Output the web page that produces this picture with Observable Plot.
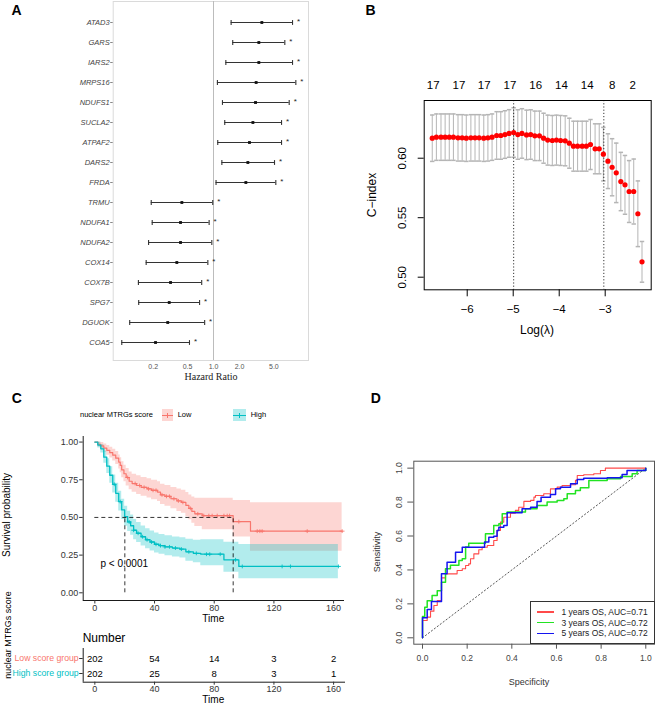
<!DOCTYPE html>
<html><head><meta charset="utf-8">
<script src="https://cdn.jsdelivr.net/npm/d3@7"></script>
<script src="https://cdn.jsdelivr.net/npm/@observablehq/plot@0.6"></script>
<style>
html,body{margin:0;padding:0;background:#fff;}
#fig{position:relative;width:655px;height:704px;overflow:hidden;background:#fff;font-family:"Liberation Sans",Arial,Helvetica,sans-serif;}
</style></head><body><div id="fig"></div>
<script>
// ---------- Panel A: univariate Cox forest ----------
const genes = ["ATAD3","GARS","IARS2","MRPS16","NDUFS1","SUCLA2","ATPAF2","DARS2","FRDA","TRMU","NDUFA1","NDUFA2","COX14","COX7B","SPG7","DGUOK","COA5"];
const hr      = [3.63, 3.35, 3.35, 3.12, 3.07, 2.86, 2.61, 2.50, 2.37, 0.43, 0.415, 0.415, 0.376, 0.318, 0.307, 0.295, 0.213];
const hrLower = [1.60, 1.67, 1.39, 1.11, 1.27, 1.35, 1.12, 1.25, 1.07, 0.19, 0.195, 0.177, 0.166, 0.135, 0.136, 0.107, 0.0866];
const hrUpper = [8.23, 6.70, 8.23, 8.99, 7.53, 6.14, 6.14, 5.09, 5.27, 0.98, 0.89, 0.956, 0.86, 0.73, 0.69, 0.79, 0.527];
const hrTicks = [0.2, 0.5, 1.0, 2.0, 5.0];

// ---------- Panel B: LASSO cross-validation ----------
const logLambda = [-6.76,-6.67,-6.57,-6.48,-6.39,-6.30,-6.20,-6.11,-6.02,-5.92,-5.83,-5.74,-5.64,-5.55,-5.46,-5.36,-5.27,-5.18,-5.09,-4.99,-4.90,-4.81,-4.71,-4.62,-4.53,-4.43,-4.34,-4.25,-4.15,-4.06,-3.97,-3.87,-3.78,-3.69,-3.60,-3.50,-3.41,-3.32,-3.22,-3.13,-3.04,-2.94,-2.85,-2.76,-2.66,-2.57,-2.48,-2.38,-2.29,-2.20];
const cIndex = [0.6168,0.6177,0.6177,0.6177,0.6177,0.6177,0.6171,0.6171,0.6168,0.6171,0.6171,0.6171,0.6168,0.6171,0.6177,0.6191,0.6191,0.6199,0.6208,0.6216,0.6199,0.6208,0.6196,0.6199,0.6188,0.6188,0.6168,0.6152,0.6149,0.6152,0.6149,0.6146,0.6126,0.6101,0.6101,0.6101,0.6101,0.6115,0.6079,0.6079,0.6034,0.5975,0.5924,0.5877,0.5804,0.5776,0.5720,0.5720,0.5533,0.5129];
const cSE = [0.0195,0.0195,0.0195,0.0195,0.0195,0.0195,0.0195,0.0195,0.0195,0.0195,0.0195,0.0195,0.0195,0.0195,0.0195,0.020,0.020,0.020,0.020,0.0208,0.0208,0.0208,0.0208,0.0208,0.0208,0.0208,0.021,0.021,0.021,0.021,0.021,0.021,0.021,0.021,0.021,0.021,0.021,0.021,0.021,0.021,0.0225,0.023,0.024,0.025,0.0245,0.0247,0.026,0.0273,0.0276,0.0171];
const topAt = [-6.74,-6.18,-5.63,-5.07,-4.51,-3.95,-3.39,-2.85,-2.40];
const topLabels = ["17","17","17","17","16","14","14","8","2"];
const lambdaMin = -4.99, lambda1se = -3.03;
const cTicks = [0.50, 0.55, 0.60];
const lamTicks = [-6, -5, -4, -3];

// ---------- Panel C: Kaplan-Meier ----------
const lowT  = [0,2,4,6,8,10,12,14,16,17,18,19.5,21,23,25,28,31,35,38,42,44,47,51,55,58,61,63,65,67,72,92.7,104.3,165.7];
const lowS  = [1,.985,.975,.96,.945,.93,.913,.893,.867,.845,.815,.79,.765,.74,.725,.712,.70,.69,.68,.668,.65,.64,.624,.61,.60,.58,.56,.54,.524,.512,.472,.409,.409];
const lowLo = [1,.968,.953,.933,.913,.895,.874,.851,.821,.797,.764,.737,.709,.683,.667,.653,.640,.629,.618,.605,.586,.575,.557,.540,.528,.505,.484,.462,.440,.418,.370,.276,.276];
const lowHi = [1,1,.997,.988,.977,.966,.953,.937,.915,.896,.869,.846,.824,.801,.787,.776,.765,.756,.747,.737,.720,.712,.698,.688,.681,.666,.649,.636,.628,.628,.612,.597,.597];
const highT  = [0,2,4,6,8,10,12,14,16,18,20,22,24,26,28,31,34,37,40,43,47,52,57,61,66,71,86.5,96.5,163.2];
const highS  = [1,.98,.955,.90,.84,.78,.72,.66,.605,.55,.505,.47,.445,.415,.395,.372,.352,.337,.322,.313,.305,.297,.29,.272,.262,.256,.219,.175,.175];
const highLo = [1,.961,.927,.860,.792,.726,.662,.600,.543,.487,.442,.407,.382,.352,.333,.311,.292,.278,.264,.255,.246,.238,.231,.210,.200,.180,.137,.093,.093];
const highHi = [1,.999,.984,.941,.890,.837,.782,.727,.673,.620,.575,.541,.516,.487,.467,.444,.425,.410,.396,.387,.379,.371,.365,.355,.348,.352,.336,.320,.320];
const lowCensor  = [22,27,30,33,36,39,41,45,48,50,53,56,59,64,69,73,76.4,78.6,82,86.5,88.7,90.3,96.5,108.8,110.6,112.1,142.3,165.7];
const highCensor = [13,17,23,26,29,32,35,38,41,44,47,50,54,58,63,68,74.8,77,84,94.3,98.8,125.5,131.1,163.2];
const medianLow = 92.7, medianHigh = 20.1;
const survTicks = [0, 0.25, 0.5, 0.75, 1];
const timeTicks = [0, 40, 80, 120, 160];
const groups = ["Low score group", "High score group"];
const riskTimes = [0, 40, 80, 120, 160];
const riskLow  = [202, 54, 14, 3, 2];
const riskHigh = [202, 25, 8, 3, 1];
const pText = "p < 0.0001";

// ---------- Panel D: time-dependent ROC ----------
const rocRedF = [0,0,.021,.036,.051,.066,.085,.085,.103,.103,.140,.155,.178,.193,.207,.215,.230,.252,.267,.290,.319,.319,.334,.349,.364,.394,.416,.431,.454,.484,.499,.506,.543,.573,.603,.625,.663,.685,.693,.722,.767,.797,.819,1.0];
const rocRedT = [0,.102,.122,.157,.190,.220,.249,.353,.353,.377,.377,.397,.407,.426,.436,.466,.495,.519,.534,.544,.544,.574,.633,.682,.711,.735,.751,.770,.804,.810,.829,.839,.849,.878,.888,.898,.902,.928,.957,.961,.967,.986,1.0,1.0];
const rocGreenF = [0,0,.010,.021,.043,.066,.085,.103,.125,.148,.163,.178,.193,.207,.282,.304,.319,.342,.357,.379,.424,.461,.513,.558,.603,.633,.648,.685,.707,.745,.827,.887,.939,.961,1.0];
const rocGreenT = [0,.126,.180,.219,.249,.278,.328,.407,.427,.427,.456,.466,.535,.558,.613,.613,.662,.672,.731,.741,.741,.760,.780,.800,.810,.820,.849,.869,.884,.927,.937,.951,.967,.986,1.0];
const rocBlueF = [0,0,.021,.040,.085,.110,.148,.178,.200,.278,.297,.319,.334,.342,.364,.379,.424,.446,.484,.513,.531,.573,.596,.618,.663,.693,.722,.827,.894,.916,1.0];
const rocBlueT = [0,.118,.167,.214,.377,.446,.505,.534,.534,.564,.593,.599,.633,.652,.662,.737,.737,.760,.770,.804,.829,.845,.878,.888,.908,.933,.941,.943,.963,.986,1.0];
const rocLabels = ["1 years OS, AUC=0.71", "3 years OS, AUC=0.72", "5 years OS, AUC=0.72"];
const rocColors = ["#ff4a4a", "#22e322", "#1414f0"];
const rocTicks = [0, 0.2, 0.4, 0.6, 0.8, 1.0];

// ---------- helpers ----------
const fig = document.getElementById("fig");
const FONT = '"Liberation Sans", Arial, Helvetica, sans-serif';
const baseStyle = {fontFamily: FONT, fontSize: "9px", background: "transparent", overflow: "visible", color: "#000"};
function addPlot(svg, left, top) {
  svg.style.position = "absolute"; svg.style.left = left + "px"; svg.style.top = top + "px";
  fig.appendChild(svg);
}
function addText(txt, x, y, o = {}) {
  const d = document.createElement("div");
  d.textContent = txt;
  Object.assign(d.style, {
    position: "absolute", left: x + "px", top: y + "px", whiteSpace: "nowrap", lineHeight: "1",
    fontFamily: o.family || FONT, fontSize: (o.size || 10) + "px", fontWeight: o.weight || "normal",
    fontStyle: o.style || "normal", color: o.color || "#000",
    transform: (o.anchor === "start" ? "translate(0,-50%)" : "translate(-50%,-50%)") + (o.rotate ? " rotate(-90deg)" : "")
  });
  fig.appendChild(d);
  return d;
}
function addBox(x, y, w, h, css) {
  const d = document.createElement("div");
  Object.assign(d.style, {position: "absolute", left: x + "px", top: y + "px", width: w + "px", height: h + "px", boxSizing: "border-box"}, css);
  fig.appendChild(d);
  return d;
}
const symR = (size) => Math.sqrt(size / Math.PI);
const vtick = {draw(ctx, size) { const s = symR(size); ctx.moveTo(0, -s); ctx.lineTo(0, s); }};
const htick = {draw(ctx, size) { const s = symR(size); ctx.moveTo(-s, 0); ctx.lineTo(s, 0); }};
const plusSym = {draw(ctx, size) { const s = symR(size); ctx.moveTo(-s, 0); ctx.lineTo(s, 0); ctx.moveTo(0, -s * 0.8); ctx.lineTo(0, s * 0.8); }};
function stepAt(ts, ss, t) { let v = ss[0]; for (let i = 0; i < ts.length; i++) { if (ts[i] <= t) v = ss[i]; else break; } return v; }

// ---------- Panel A ----------
const rowsA = genes.map((g, i) => ({gene: g, hr: hr[i], lo: hrLower[i], hi: hrUpper[i]}));
const plotA = Plot.plot({
  width: 330, height: 385, marginLeft: 112.7, marginRight: 22, marginTop: 1, marginBottom: 25,
  style: baseStyle,
  x: {type: "log", domain: [0.0689, 12.6], label: null, axis: null},
  y: {type: "point", domain: genes, range: [19.3, 344], padding: 0, label: null},
  marks: [
    Plot.frame({stroke: "#dadada"}),
    Plot.ruleX([1], {stroke: "#bcbcbc", strokeWidth: 1}),
    Plot.ruleY(rowsA, {y: "gene", x1: "lo", x2: "hi", stroke: "#333", strokeWidth: 1.1}),
    Plot.dot(rowsA, {x: "lo", y: "gene", symbol: vtick, r: 2.4, stroke: "#333", strokeWidth: 1.1, fill: "none"}),
    Plot.dot(rowsA, {x: "hi", y: "gene", symbol: vtick, r: 2.4, stroke: "#333", strokeWidth: 1.1, fill: "none"}),
    Plot.dot(rowsA, {x: "hr", y: "gene", symbol: "square", r: 1.6, fill: "#111", stroke: "none"}),
    Plot.text(rowsA, {x: "hi", y: "gene", text: () => "*", dx: 6, dy: -1, fontSize: 8, fill: "#222"}),
    Plot.axisY({tickSize: 2.5, tickPadding: 1, fontStyle: "italic", fontSize: 7.5, fill: "#444", stroke: "#888", label: null}),
    Plot.text(hrTicks, {x: d => d, text: d => d3.format(".1f")(d), frameAnchor: "bottom", dy: 8, fontSize: 7, fill: "#555"})
  ]
});
addPlot(plotA, 0, 0);
addText("Hazard Ratio", 211, 377, {family: '"Liberation Serif","Times New Roman",serif', size: 10, color: "#222"});

// ---------- Panel B ----------
const cvRows = logLambda.map((x, i) => ({x, c: cIndex[i], lo: cIndex[i] - cSE[i], hi: cIndex[i] + cSE[i]}));
const bX = [-6.935, -2.0], bY = [0.4894, 0.6485];
const plotB = Plot.plot({
  width: 325, height: 260, marginLeft: 93.7, marginRight: 4.3, marginTop: 40, marginBottom: 30.7,
  style: baseStyle,
  x: {domain: bX, label: null},
  y: {domain: bY, label: null},
  marks: [
    Plot.ruleX(cvRows, {x: "x", y1: "lo", y2: "hi", stroke: "#b5b5b5", strokeWidth: 1}),
    Plot.dot(cvRows, {x: "x", y: "lo", symbol: htick, r: 2.2, stroke: "#b5b5b5", fill: "none"}),
    Plot.dot(cvRows, {x: "x", y: "hi", symbol: htick, r: 2.2, stroke: "#b5b5b5", fill: "none"}),
    Plot.ruleX([lambdaMin, lambda1se], {stroke: "#000", strokeWidth: 0.8, strokeDasharray: "1.2,2"}),
    Plot.dot(cvRows, {x: "x", y: "c", r: 2.6, fill: "#ff0000", stroke: "none"}),
    Plot.frame({stroke: "#000"}),
    Plot.axisX({ticks: lamTicks, tickFormat: d3.format("d"), tickSize: 7, tickPadding: 8, fontSize: 11.5, fill: "#000", stroke: "#000", label: null}),
    Plot.axisY({ticks: cTicks, tickSize: 6, tickFormat: () => "", stroke: "#000", label: null}),
    Plot.text(cTicks, {x: bX[0], y: d => d, text: d => d3.format(".2f")(d), rotate: -90, dx: -22, fontSize: 11.5, fill: "#000"}),
    Plot.text(topAt, {x: d => d, text: (d, i) => topLabels[i], frameAnchor: "top", dy: -20, fontSize: 11.5, fill: "#000"})
  ]
});
addPlot(plotB, 330, 60);
addText("C\u2212index", 372, 194.5, {size: 12, rotate: true});
addText("Log(\u03bb)", 537, 330, {size: 12});

// ---------- Panel C: KM ----------
const lowRows = lowT.map((t, i) => ({t, s: lowS[i], lo: lowLo[i], hi: lowHi[i]}));
const highRows = highT.map((t, i) => ({t, s: highS[i], lo: highLo[i], hi: highHi[i]}));
const lowC = lowCensor.map(t => ({t, s: stepAt(lowT, lowS, t)}));
const highC = highCensor.map(t => ({t, s: stepAt(highT, highS, t)}));
const cX = [-7.8, 167.3], cY = [-0.0511, 1.037];
const LOWCOL = "#F8766D", HIGHCOL = "#00BFC4";
const plotC = Plot.plot({
  width: 350, height: 205, marginLeft: 82.7, marginRight: 6, marginTop: 11, marginBottom: 30,
  style: baseStyle,
  x: {domain: cX, label: null},
  y: {domain: cY, label: null},
  marks: [
    Plot.areaY(lowRows, {x: "t", y1: "lo", y2: "hi", curve: "step-after", fill: LOWCOL, fillOpacity: 0.3}),
    Plot.areaY(highRows, {x: "t", y1: "lo", y2: "hi", curve: "step-after", fill: HIGHCOL, fillOpacity: 0.3}),
    Plot.line(lowRows, {x: "t", y: "s", curve: "step-after", stroke: LOWCOL, strokeWidth: 1.2}),
    Plot.line(highRows, {x: "t", y: "s", curve: "step-after", stroke: HIGHCOL, strokeWidth: 1.3}),
    Plot.dot(lowC, {x: "t", y: "s", symbol: plusSym, r: 2.4, stroke: LOWCOL, fill: "none", strokeWidth: 0.9}),
    Plot.dot(highC, {x: "t", y: "s", symbol: plusSym, r: 2.4, stroke: HIGHCOL, fill: "none", strokeWidth: 0.9}),
    Plot.ruleY([0.5], {x1: 0, x2: medianLow, stroke: "#000", strokeWidth: 0.8, strokeDasharray: "4,3"}),
    Plot.ruleX([medianHigh, medianLow], {y1: 0, y2: 0.5, stroke: "#000", strokeWidth: 0.8, strokeDasharray: "4,3"}),
    Plot.text([pText], {x: 3.8, y: 0.192, text: d => d, textAnchor: "start", fontSize: 10, fill: "#000"}),
    Plot.ruleX([cX[0]], {stroke: "#000", strokeWidth: 0.9}),
    Plot.ruleY([cY[0]], {stroke: "#000", strokeWidth: 0.9}),
    Plot.axisY({ticks: survTicks, tickFormat: d3.format(".2f"), tickSize: 3.5, tickPadding: 1.5, fontSize: 9, fill: "#333", stroke: "#333", label: null}),
    Plot.axisX({ticks: timeTicks, tickSize: 3.5, tickPadding: 1, fontSize: 9, fill: "#333", stroke: "#333", label: null})
  ]
});
addPlot(plotC, 0, 425);
addText("Survival probability", 7, 515, {size: 10, rotate: true});
addText("Time", 213.3, 619, {size: 10});

// legend for C
addText("nuclear MTRGs score", 80, 415, {size: 7.5, anchor: "start"});
addBox(162.3, 409.3, 11, 11.4, {background: "rgba(248,118,109,0.3)"});
addBox(162.3, 414.5, 11, 1.2, {background: LOWCOL});
addBox(167.3, 412.5, 1, 5, {background: LOWCOL});
addText("Low", 177.7, 415, {size: 7.5, anchor: "start"});
addBox(233.3, 409.3, 13, 11.4, {background: "rgba(0,191,196,0.3)"});
addBox(233.3, 414.5, 13, 1.2, {background: HIGHCOL});
addBox(239.3, 412.5, 1, 5, {background: HIGHCOL});
addText("High", 250.7, 415, {size: 7.5, anchor: "start"});

// risk table
const riskRows = riskTimes.flatMap((t, i) => [{t, g: groups[0], n: riskLow[i]}, {t, g: groups[1], n: riskHigh[i]}]);
const plotT = Plot.plot({
  width: 350, height: 74, marginLeft: 82.7, marginRight: 6, marginTop: 18, marginBottom: 22.3,
  style: baseStyle,
  x: {domain: cX, label: null},
  y: {type: "point", domain: groups, range: [27.3, 42.7], padding: 0, label: null},
  marks: [
    Plot.text(riskRows, {x: "t", y: "g", text: "n", fontSize: 9.5, fill: "#000"}),
    Plot.ruleX([cX[0]], {stroke: "#000", strokeWidth: 0.9}),
    Plot.frame({anchor: "bottom", stroke: "#000", strokeWidth: 0.9}),
    Plot.axisY({tickSize: 3.5, tickFormat: () => "", stroke: "#333", label: null}),
    Plot.text([groups[0]], {x: cX[0], y: d => d, text: d => d, textAnchor: "end", dx: -4.5, fontSize: 8.7, fill: LOWCOL}),
    Plot.text([groups[1]], {x: cX[0], y: d => d, text: d => d, textAnchor: "end", dx: -4.5, fontSize: 8.7, fill: HIGHCOL}),
    Plot.axisX({ticks: timeTicks, tickSize: 3, tickPadding: 0.5, fontSize: 9, fill: "#333", stroke: "#333", label: null})
  ]
});
addPlot(plotT, 0, 630);
addText("Number", 82.7, 637.7, {size: 12, anchor: "start"});
addText("Time", 213.3, 699.5, {size: 10});
addText("nuclear MTRGs score", 7.5, 635, {size: 9, rotate: true});

// ---------- Panel D: ROC ----------
const mkRoc = (F, T) => F.map((f, i) => ({f, t: T[i]}));
const rocSets = [mkRoc(rocRedF, rocRedT), mkRoc(rocGreenF, rocGreenT), mkRoc(rocBlueF, rocBlueT)];
const diag = [{f: 0, t: 0}, {f: 1, t: 1}];
const dX = [-0.039, 1.039], dY = [-0.0377, 1.041];
const plotD = Plot.plot({
  width: 325, height: 264, marginLeft: 83.3, marginRight: 1, marginTop: 20.7, marginBottom: 60.3,
  style: baseStyle,
  x: {domain: dX, label: null},
  y: {domain: dY, label: null},
  marks: [
    Plot.line(diag, {x: "f", y: "t", stroke: "#444", strokeWidth: 0.9, strokeDasharray: "1.3,2.4"}),
    Plot.line(rocSets[0], {x: "f", y: "t", curve: "step-after", stroke: rocColors[0], strokeWidth: 1.1}),
    Plot.line(rocSets[1], {x: "f", y: "t", curve: "step-after", stroke: rocColors[1], strokeWidth: 1.5}),
    Plot.line(rocSets[2], {x: "f", y: "t", curve: "step-after", stroke: rocColors[2], strokeWidth: 1.5}),
    Plot.frame({stroke: "#555"}),
    Plot.axisX({ticks: rocTicks, tickFormat: d3.format(".1f"), tickSize: 5, tickPadding: 6, fontSize: 8.5, fill: "#444", stroke: "#555", label: null}),
    Plot.axisY({ticks: rocTicks, tickSize: 6, tickFormat: () => "", stroke: "#555", label: null}),
    Plot.text(rocTicks, {x: dX[0], y: d => d, text: d => d3.format(".1f")(d), rotate: -90, dx: -15, fontSize: 8.5, fill: "#444"})
  ]
});
addPlot(plotD, 330, 440);
addText("Sensitivity", 376.7, 552, {size: 9, rotate: true, color: "#333"});
addText("Specificity", 529, 681.7, {size: 9, color: "#333"});
addBox(530, 601, 124.5, 43.2, {background: "#fff", border: "1px solid #333"});
[612, 622.7, 633.3].forEach((y, i) => {
  addBox(537.3, y - 0.75, 16.7, 1.5, {background: rocColors[i]});
  addText(rocLabels[i], 561.5, y, {size: 8.5, anchor: "start", color: "#222"});
});

// ---------- panel letters ----------
addText("A", 16.5, 10, {size: 14, weight: "bold"});
addText("B", 370.5, 10, {size: 14, weight: "bold"});
addText("C", 16.7, 398, {size: 14, weight: "bold"});
addText("D", 375.8, 398, {size: 14, weight: "bold"});
</script></body></html>
